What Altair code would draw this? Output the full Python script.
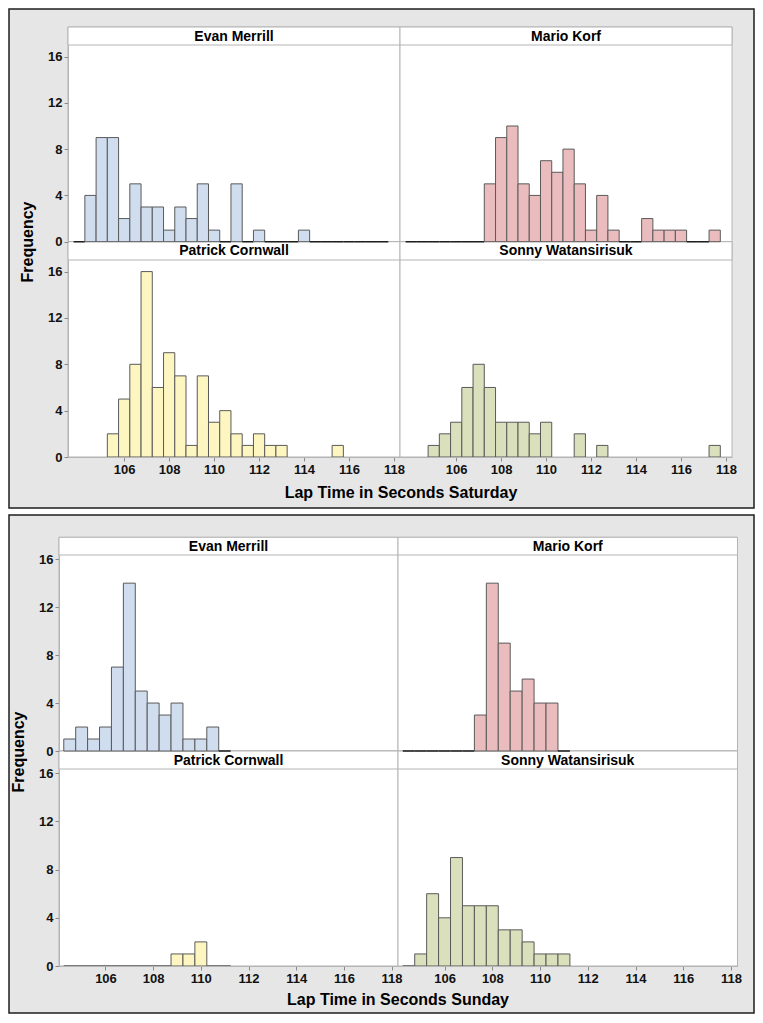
import altair as alt
import pandas as pd

# ---------------- data ----------------
DRIVERS = ["Evan Merrill", "Mario Korf", "Patrick Cornwall", "Sonny Watansirisuk"]
FILLS = ["#cfddef", "#ebbcbe", "#fdf6c0", "#d9e0bb"]

# bin centres (bin width 0.5 s)
SAT_BINS = [104.0, 104.5, 105.0, 105.5, 106.0, 106.5, 107.0, 107.5, 108.0, 108.5,
            109.0, 109.5, 110.0, 110.5, 111.0, 111.5, 112.0, 112.5, 113.0, 113.5,
            114.0, 114.5, 115.0, 115.5, 116.0, 116.5, 117.0, 117.5]
SAT_EVAN = [0, 4, 9, 9, 2, 5, 3, 3, 1, 3, 2, 5, 1, 0, 5, 0, 1, 0, 0, 0, 1, 0, 0, 0, 0, 0, 0, 0]
SAT_MARIO = [0, 0, 0, 0, 0, 0, 0, 5, 9, 10, 5, 4, 7, 6, 8, 5, 1, 4, 1, 0, 0, 2, 1, 1, 1, 0, 0, 1]
SAT_PATRICK = [0, 0, 0, 2, 5, 8, 16, 6, 9, 7, 1, 7, 3, 4, 2, 1, 2, 1, 1, 0, 0, 0, 0, 1, 0, 0, 0, 0]
SAT_SONNY = [0, 0, 1, 2, 3, 6, 8, 6, 3, 3, 3, 2, 3, 0, 0, 2, 0, 1, 0, 0, 0, 0, 0, 0, 0, 0, 0, 1]

SUN_BINS = [104.5, 105.0, 105.5, 106.0, 106.5, 107.0, 107.5, 108.0, 108.5, 109.0,
            109.5, 110.0, 110.5, 111.0]
SUN_EVAN = [1, 2, 1, 2, 7, 14, 5, 4, 3, 4, 1, 1, 2, 0]
SUN_MARIO = [0, 0, 0, 0, 0, 0, 3, 14, 9, 5, 6, 4, 4, 0]
SUN_PATRICK = [0, 0, 0, 0, 0, 0, 0, 0, 0, 1, 1, 2, 0, 0]
SUN_SONNY = [0, 1, 6, 4, 9, 5, 5, 5, 3, 3, 2, 1, 1, 1]

X_TICKS = [106, 108, 110, 112, 114, 116, 118]
Y_TICKS = [0, 4, 8, 12, 16]

# ---------------- layout / style ----------------
W, H = 747, 1006
FONT = "Liberation Sans"
BAR_STROKE = "#5a5a5a"
ZERO_STROKE = "#1e1e1e"
BORDER = "#b4b4b4"
BOX_FILL = "#e6e6e6"
BOX_STROKE = "#1e1e1e"

DAYS = [
    dict(title="Lap Time in Seconds Saturday", bins=SAT_BINS,
         counts=[SAT_EVAN, SAT_MARIO, SAT_PATRICK, SAT_SONNY],
         box=(1, 746, 1, 500), cols=[(60, 392), (392, 724)],
         rows=[(19, 37, 233.7), (233.7, 252, 449)],
         xdom=[103.5, 118.27], ydom=[0, 17], zero_line=[True, False],
         ylab=(20, 234), xlab=(393, 485)),
    dict(title="Lap Time in Seconds Sunday", bins=SUN_BINS,
         counts=[SUN_EVAN, SUN_MARIO, SUN_PATRICK, SUN_SONNY],
         box=(1, 746, 507, 1005), cols=[(51, 390), (390, 729.5)],
         rows=[(529.3, 547, 743), (743, 761, 958)],
         xdom=[104.05, 118.27], ydom=[0, 16.35], zero_line=[True, True],
         ylab=(11, 744), xlab=(390, 992)),
]

ONE = pd.DataFrame({"k": [0]})


def vrect(x0, x1, y0, y1, fill, stroke, sw):
    return alt.Chart(ONE).mark_rect(fill=fill, stroke=stroke, strokeWidth=sw).encode(
        x=alt.value(x0), x2=alt.value(x1), y=alt.value(y0), y2=alt.value(y1))


def vtext(txt, x, y, size, angle=0):
    return alt.Chart(ONE).mark_text(
        text=txt, font=FONT, fontSize=size, fontWeight="bold", color="#000000",
        align="center", baseline="middle", angle=angle).encode(
        x=alt.value(x), y=alt.value(y))


axis_common = dict(grid=False, title=None, zindex=1, tickSize=4, tickColor="#8a8a8a",
                   domainColor=BORDER, labelFont=FONT, labelFontSize=13,
                   labelFontWeight="bold", labelColor="#111111", labelPadding=2,
                   labelFlush=False)

back, panels, bars, strips, texts = [], [], [], [], []

for day in DAYS:
    bx0, bx1, by0, by1 = day["box"]
    back.append(vrect(bx0, bx1, by0, by1, BOX_FILL, BOX_STROKE, 1.5))
    for i, name in enumerate(DRIVERS):
        r, c = divmod(i, 2)
        x0, x1 = day["cols"][c]
        st, pt, pb = day["rows"][r]
        panels.append(vrect(x0, x1, st, pb, "#ffffff", BORDER, 1))
        strips.append(vrect(x0, x1, st, pt, "#ffffff", BORDER, 1))
        texts.append(vtext(name, (x0 + x1) / 2, (st + pt) / 2 + 0.5, 14))

        df = pd.DataFrame({"center": day["bins"], "count": day["counts"][i]})
        df["lo"] = df["center"] - 0.25
        df["hi"] = df["center"] + 0.25
        if not day["zero_line"][r]:
            df = df[df["count"] > 0]

        xaxis = (alt.Axis(orient="bottom", offset=pb - H, values=X_TICKS, **axis_common)
                 if r == 1 else None)
        yaxis = (alt.Axis(orient="left", offset=-x0, values=Y_TICKS, **axis_common)
                 if c == 0 else None)
        zero_col = ZERO_STROKE if r == 0 else BAR_STROKE
        zero_w = 1.6 if r == 0 else 1
        bars.append(
            alt.Chart(df).mark_rect(fill=FILLS[i]).encode(
                x=alt.X("lo:Q", scale=alt.Scale(domain=day["xdom"], range=[x0, x1],
                                                nice=False, zero=False), axis=xaxis),
                x2="hi:Q",
                y=alt.Y("count:Q", scale=alt.Scale(domain=day["ydom"], range=[pb, pt],
                                                   nice=False, zero=False), axis=yaxis),
                y2=alt.datum(0),
                stroke=alt.condition("datum.count == 0", alt.value(zero_col),
                                     alt.value(BAR_STROKE)),
                strokeWidth=alt.condition("datum.count == 0", alt.value(zero_w),
                                          alt.value(1)),
            )
        )
    texts.append(vtext("Frequency", day["ylab"][0], day["ylab"][1], 16, angle=270))
    texts.append(vtext(day["title"], day["xlab"][0], day["xlab"][1], 16))

chart = alt.layer(*(back + panels + strips + bars + texts)).resolve_scale(
    x="independent", y="independent"
).properties(
    width=W, height=H, padding=0, autosize=alt.AutoSizeParams(type="none")
).configure_view(stroke="transparent")

chart.save("out.html", embed_options={"renderer": "svg", "actions": False})
